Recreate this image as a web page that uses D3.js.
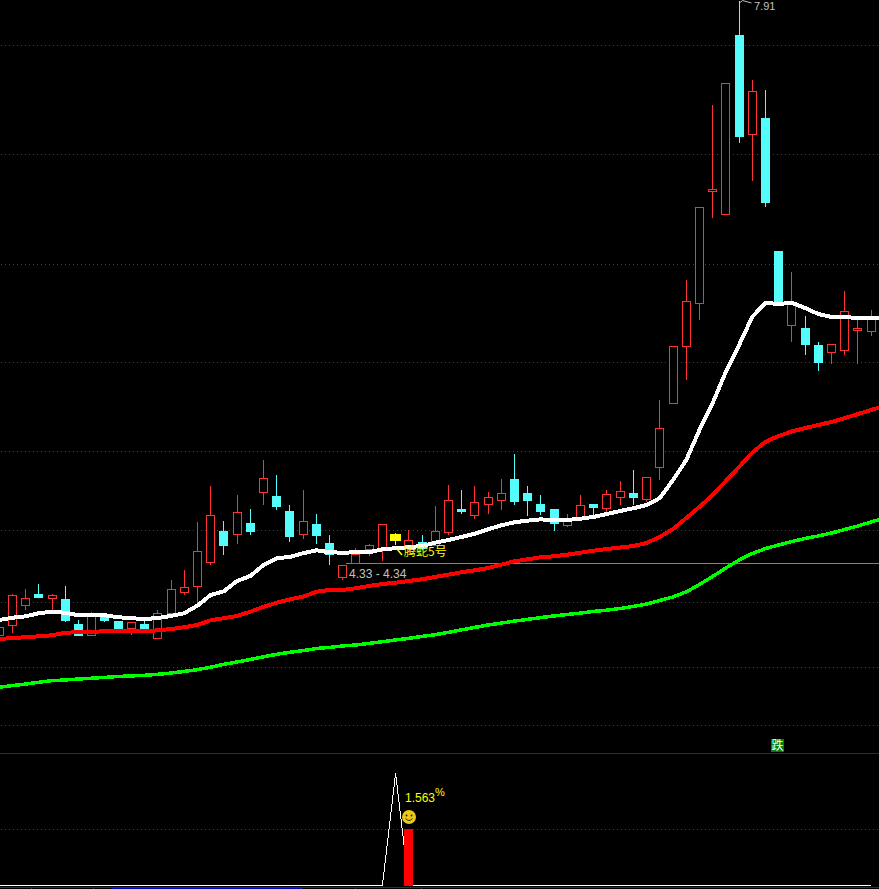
<!DOCTYPE html>
<html>
<head>
<meta charset="utf-8">
<script src="https://cdn.jsdelivr.net/npm/d3@7"></script>
<style>
  html, body { margin: 0; background: #000; overflow: hidden; }
  svg { display: block; }
  text { font-family: "Liberation Sans", sans-serif; }
</style>
</head>
<body>
<div id="chart"></div>
<script>
  // --- Daily bars ---
  const opens = [3.969,4.033,4.155,4.227,4.198,4.19,4.041,3.969,4.097,4.058,4.012,4.035,3.95,4.105,4.235,4.272,4.421,4.612,4.595,4.667,4.861,4.829,4.736,4.595,4.661,4.543,4.333,4.419,4.506,4.5,4.593,4.512,4.548,4.531,4.607,4.748,4.713,4.781,4.806,4.934,4.853,4.779,4.748,4.655,4.705,4.779,4.76,4.824,4.853,4.812,5.016,5.407,5.76,6.03,6.721,6.581,7.687,7.075,7.178,6.348,5.897,5.876,5.765,5.723,5.736,5.86,5.86];
  const closes = [4.021,4.219,4.201,4.209,4.219,4.06,3.973,4.097,4.06,3.992,4.052,3.998,4.108,4.256,4.269,4.492,4.715,4.525,4.734,4.618,4.945,4.767,4.581,4.678,4.593,4.475,4.405,4.473,4.529,4.659,4.556,4.56,4.512,4.616,4.808,4.736,4.796,4.827,4.852,4.798,4.81,4.736,4.661,4.692,4.777,4.76,4.845,4.864,4.829,4.951,5.255,5.763,6.042,6.625,6.736,7.394,7.062,7.344,6.659,6.025,6.025,5.777,5.659,5.775,5.98,5.875,5.932];
  const highs = [4.021,4.232,4.263,4.294,4.232,4.277,4.072,4.12,4.103,4.06,4.052,4.083,4.134,4.314,4.382,4.674,4.897,4.68,4.847,4.76,5.058,4.965,4.779,4.872,4.729,4.593,4.405,4.517,4.543,4.659,4.61,4.624,4.599,4.773,4.909,4.878,4.897,4.86,4.946,5.101,4.897,4.847,4.748,4.729,4.841,4.785,4.878,4.928,5.002,4.951,5.43,5.763,6.18,6.625,7.259,7.394,7.91,7.414,7.352,6.354,6.228,5.951,5.79,5.775,6.106,5.926,5.994];
  const lows = [3.969,3.987,4.128,4.204,4.128,4.054,3.973,3.969,4.055,3.992,3.975,3.998,3.95,4.105,4.221,4.153,4.413,4.475,4.543,4.599,4.785,4.748,4.55,4.574,4.543,4.407,4.32,4.419,4.463,4.434,4.531,4.512,4.5,4.531,4.599,4.729,4.698,4.729,4.748,4.785,4.711,4.717,4.618,4.643,4.68,4.711,4.736,4.785,4.785,4.798,4.934,5.407,5.56,5.932,6.56,6.581,7.025,6.79,6.628,6.025,5.79,5.709,5.61,5.659,5.715,5.659,5.827];

  // --- Moving averages, one value per bar (one more bar runs off the right edge) ---
  const maWhite = [4.066,4.08,4.089,4.108,4.117,4.111,4.095,4.095,4.095,4.083,4.077,4.072,4.078,4.091,4.108,4.155,4.221,4.244,4.308,4.339,4.407,4.449,4.457,4.48,4.498,4.486,4.483,4.486,4.486,4.504,4.511,4.517,4.525,4.545,4.562,4.581,4.601,4.628,4.653,4.672,4.682,4.69,4.684,4.686,4.694,4.705,4.723,4.742,4.759,4.779,4.822,4.934,5.058,5.244,5.411,5.605,5.771,5.946,6.033,6.025,6.033,6.0,5.963,5.945,5.945,5.937,5.937,5.937];
  const maRed = [3.948,3.954,3.959,3.965,3.971,3.987,3.99,3.993,3.996,3.996,3.996,3.996,4.002,4.01,4.021,4.035,4.064,4.077,4.091,4.117,4.148,4.173,4.194,4.21,4.241,4.252,4.252,4.263,4.277,4.289,4.297,4.308,4.318,4.333,4.347,4.362,4.374,4.388,4.409,4.43,4.442,4.455,4.461,4.471,4.483,4.496,4.506,4.515,4.525,4.543,4.581,4.63,4.698,4.767,4.841,4.928,5.015,5.104,5.171,5.207,5.235,5.256,5.275,5.294,5.318,5.343,5.368,5.393];
  const maGreen = [3.649,3.659,3.669,3.68,3.69,3.694,3.7,3.705,3.71,3.716,3.719,3.723,3.729,3.737,3.747,3.758,3.773,3.791,3.806,3.821,3.838,3.853,3.866,3.876,3.889,3.896,3.905,3.911,3.921,3.931,3.942,3.952,3.964,3.975,3.989,4.005,4.02,4.035,4.047,4.059,4.07,4.081,4.091,4.1,4.109,4.119,4.127,4.137,4.15,4.165,4.187,4.209,4.24,4.286,4.336,4.388,4.438,4.478,4.509,4.531,4.553,4.571,4.587,4.605,4.627,4.649,4.674,4.698];

  // --- Price levels and marked bars ---
  const gridPrices = [7.629,6.953,6.271,5.664,5.112,4.622,4.176,3.77,3.413];
  const supportPrice = 4.418;
  const signalBar = 30;   // the yellow bar
  const highBar = 56;
  const greenMarkBar = 59;

  // --- Lower panel ---
  const indicatorLine = [0,0,0,0,0,0,0,0,0,0,0,0,0,0,0,0,0,0,0,0,0,0,0,0,0,0,0,0,0,0,3.13,0,0,0,0,0,0,0,0,0,0,0,0,0,0,0,0,0,0,0,0,0,0,0,0,0,0,0,0,0,0,0,0,0,0,0,0];
  const indicatorBarIndex = 31;
  const indicatorBarValue = 1.563;
  const lowerGridValue = 1.563;
  const axisTicks = [2.4,7.1,8.5,22.8,26.9,31.9];
  const axisBlueSpan = [8.5,22.8];

  // --- Render ---
  const width = 879, height = 889;
  const RED = "#ff3232", CYAN = "#54fcfc", GRID = "#e00000";

  const svg = d3.select("#chart").append("svg")
    .attr("width", width).attr("height", height)
    .attr("viewBox", `0 0 ${width} ${height}`)
    .style("background", "#000");

  const x = d3.scaleLinear().domain([0, 66]).range([-0.7, 871.2]);
  const y = d3.scaleLinear().domain([7.91, 4.33]).range([0, 577.4]);
  const yLow = d3.scaleLinear().domain([0, 3.13]).range([885.5, 773.3]);

  const px = v => Math.floor(v) + 0.5;   // snap to the pixel grid

  // Dotted price levels
  svg.append("g").selectAll("line")
    .data(gridPrices)
    .join("line")
      .attr("x1", 1).attr("x2", width)
      .attr("y1", d => px(y(d))).attr("y2", d => px(y(d)))
      .attr("stroke", GRID).attr("stroke-dasharray", "1 3");

  // Panel separators
  svg.append("line")
    .attr("x1", 0).attr("x2", width).attr("y1", 753.5).attr("y2", 753.5)
    .attr("stroke", "#a00000").attr("shape-rendering", "crispEdges");
  svg.append("line")
    .attr("x1", 1).attr("x2", width)
    .attr("y1", px(yLow(lowerGridValue))).attr("y2", px(yLow(lowerGridValue)))
    .attr("stroke", GRID).attr("stroke-dasharray", "1 3");

  // Support line
  svg.append("line")
    .attr("x1", 346).attr("x2", width)
    .attr("y1", px(y(supportPrice))).attr("y2", px(y(supportPrice)))
    .attr("stroke", "#808080").attr("shape-rendering", "crispEdges");

  // Candles
  const bars = d3.range(opens.length);
  const colorOf = i => i === signalBar ? "#ffff00" : closes[i] >= opens[i] ? RED : CYAN;
  const bodyHalf = i => i === signalBar ? 5 : 4;   // the signal bar is drawn wider
  const candle = svg.append("g").attr("shape-rendering", "crispEdges")
    .selectAll("g").data(bars).join("g");
  candle.append("line")
    .attr("x1", i => px(x(i))).attr("x2", i => px(x(i)))
    .attr("y1", i => px(y(highs[i]))).attr("y2", i => px(y(lows[i])))
    .attr("stroke", colorOf);
  candle.append("rect")
    .attr("x", i => px(x(i)) - bodyHalf(i)).attr("width", i => 2 * bodyHalf(i))
    .attr("y", i => px(y(Math.max(opens[i], closes[i]))))
    .attr("height", i => Math.max(1, Math.round(Math.abs(y(opens[i]) - y(closes[i])))))
    .attr("stroke", colorOf)
    .attr("fill", i => colorOf(i) === RED ? "#000" : colorOf(i));

  // Moving averages
  const maLine = d3.line().x((d, i) => x(i)).y(d => y(d));
  [[maGreen, "#00ff00", 3.5], [maRed, "#ff0000", 4], [maWhite, "#ffffff", 4]].forEach(([s, c, w]) => {
    svg.append("path").datum(s)
      .attr("d", maLine)
      .attr("fill", "none").attr("stroke", c).attr("stroke-width", w)
      .attr("shape-rendering", "crispEdges");
  });

  // Annotations
  svg.append("text").attr("x", 754).attr("y", 10)
    .attr("font-size", 11).attr("fill", "#c0c0c0").text(highs[highBar].toFixed(2));
  svg.append("path")
    .attr("d", `M${px(x(highBar))},3L${px(x(highBar)) + 3},0.5L${px(x(highBar)) + 12},3`)
    .attr("fill", "none").attr("stroke", "#c0c0c0");
  svg.append("text").attr("x", 349).attr("y", 578)
    .attr("font-size", 12).attr("fill", "#c0c0c0").text("4.33 - 4.34");
  svg.append("text").attr("x", 404).attr("y", 556)
    .attr("font-size", 12).attr("fill", "#ffff00")
    .style("font-family", '"Noto Sans CJK SC", sans-serif').text("腾蛇5号");
  svg.append("line")
    .attr("x1", 397).attr("y1", 549).attr("x2", 402).attr("y2", 555)
    .attr("stroke", "#ffff00").attr("stroke-width", 1.5);

  // 跌 mark
  const markX = px(x(greenMarkBar)) - 7.5;
  svg.append("rect").attr("x", markX).attr("y", 739).attr("width", 13).attr("height", 13)
    .attr("fill", "#008000");
  svg.append("text").attr("x", markX + 6.5).attr("y", 750).attr("text-anchor", "middle")
    .attr("font-size", 12).attr("fill", "#fff")
    .style("font-family", '"Noto Sans CJK SC", sans-serif').text("跌");

  // Lower panel: indicator line and bar
  svg.append("path").datum(indicatorLine)
    .attr("d", d3.line().x((d, i) => x(i)).y(d => yLow(d)))
    .attr("fill", "none").attr("stroke", "#fff")
    .attr("shape-rendering", "crispEdges");
  svg.append("rect")
    .attr("x", px(x(indicatorBarIndex)) - 4.5).attr("width", 9)
    .attr("y", yLow(indicatorBarValue))
    .attr("height", yLow(0) - yLow(indicatorBarValue))
    .attr("fill", "#ff0000").attr("shape-rendering", "crispEdges");

  svg.append("text").attr("x", 405).attr("y", 802)
    .attr("font-size", 12).attr("fill", "#ffff00").text(indicatorBarValue.toFixed(3));
  svg.append("text").attr("x", 435).attr("y", 796)
    .attr("font-size", 11).attr("fill", "#ffff00").text("%");

  // Smiley above the bar
  const smile = svg.append("g").attr("transform", "translate(409,817)");
  smile.append("circle").attr("r", 7).attr("fill", "#e8c818");
  smile.append("circle").attr("cx", -2.5).attr("cy", -1.5).attr("r", 1).attr("fill", "#3a2a00");
  smile.append("circle").attr("cx", 2.5).attr("cy", -1.5).attr("r", 1).attr("fill", "#3a2a00");
  smile.append("path").attr("d", "M-3.5,1.5Q0,5.5 3.5,1.5")
    .attr("fill", "none").attr("stroke", "#3a2a00");

  // Date axis along the bottom edge
  const axis = svg.append("g").attr("transform", "translate(0,887)")
    .attr("shape-rendering", "crispEdges")
    .call(d3.axisBottom(x).tickValues(axisTicks).tickSize(2).tickSizeOuter(0).tickFormat(""));
  axis.select(".domain").attr("d", `M0,0.5H${width}`).attr("stroke", "#a00000");
  axis.selectAll("line").attr("stroke", "#a00000");
  svg.append("line")
    .attr("x1", x(axisBlueSpan[0])).attr("x2", x(axisBlueSpan[1]))
    .attr("y1", 888.5).attr("y2", 888.5)
    .attr("stroke", "#0000c0").attr("shape-rendering", "crispEdges");
</script>
</body>
</html>
